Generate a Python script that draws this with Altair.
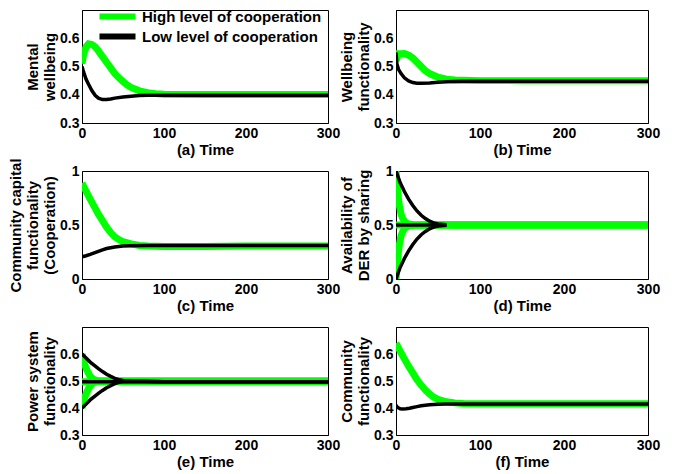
import altair as alt
import pandas as pd

HIGH = "High level of cooperation"
LOW = "Low level of cooperation"
GREEN = "#00ff00"

# ---------------- data ----------------
# (a) Mental wellbeing
a_high_t = [0, 2, 5, 8, 12, 16, 20, 25, 30, 35, 40, 45, 50, 55, 60, 70, 80, 90, 100, 150, 200, 250, 300]
a_high_y = [0.51, 0.545, 0.57, 0.58, 0.578, 0.57, 0.555, 0.535, 0.515, 0.495, 0.475, 0.46, 0.447, 0.435,
            0.426, 0.414, 0.407, 0.404, 0.402, 0.401, 0.401, 0.401, 0.401]
a_low_t = [0, 2, 5, 8, 12, 16, 20, 25, 30, 35, 40, 50, 60, 70, 80, 100, 150, 200, 250, 300]
a_low_y = [0.50, 0.48, 0.455, 0.437, 0.415, 0.398, 0.388, 0.383, 0.383, 0.385, 0.388, 0.392, 0.395,
           0.397, 0.398, 0.398, 0.398, 0.398, 0.398, 0.398]

# (b) Wellbeing functionality
b_high_t = [0, 3, 6, 10, 15, 20, 25, 30, 35, 40, 50, 60, 70, 80, 100, 150, 200, 250, 300]
b_high_y = [0.52, 0.545, 0.545, 0.546, 0.54, 0.53, 0.515, 0.5, 0.485, 0.475, 0.462, 0.455, 0.452,
            0.451, 0.45, 0.45, 0.45, 0.45, 0.45]
b_low_t = [0, 1, 3, 6, 10, 15, 20, 25, 30, 40, 50, 60, 70, 80, 100, 150, 200, 250, 300]
b_low_y = [0.55, 0.51, 0.49, 0.475, 0.46, 0.449, 0.443, 0.441, 0.441, 0.442, 0.444, 0.446, 0.447,
           0.448, 0.448, 0.448, 0.448, 0.448, 0.448]

# (c) Community capital functionality (Cooperation)
c_high_t = [0, 5, 10, 15, 20, 25, 30, 35, 40, 45, 50, 60, 70, 80, 100, 150, 200, 250, 300]
c_high_y = [0.89, 0.81, 0.74, 0.67, 0.6, 0.54, 0.48, 0.43, 0.39, 0.365, 0.345, 0.325, 0.31, 0.305,
            0.3, 0.3, 0.305, 0.305, 0.305]
c_low_t = [0, 5, 10, 15, 20, 25, 30, 40, 50, 60, 80, 100, 150, 200, 250, 300]
c_low_y = [0.205, 0.215, 0.228, 0.242, 0.256, 0.27, 0.282, 0.297, 0.305, 0.308, 0.31, 0.31, 0.31,
           0.31, 0.31, 0.31]

# (d) Availability of DER by sharing (three starting points)
d_high_t = [0, 1, 2, 3, 4, 6, 8, 10, 12, 15, 20, 30, 100, 200, 300]
d_high_up = [1.0, 0.9, 0.81, 0.74, 0.68, 0.6, 0.56, 0.535, 0.52, 0.51, 0.502, 0.5, 0.5, 0.5, 0.5]
d_high_mid = [0.5, 0.5, 0.5, 0.5, 0.5, 0.5, 0.5, 0.5, 0.5, 0.5, 0.5, 0.5, 0.5, 0.5, 0.5]
d_high_dn = [0.0, 0.1, 0.19, 0.26, 0.32, 0.4, 0.44, 0.465, 0.48, 0.49, 0.498, 0.5, 0.5, 0.5, 0.5]
d_low_t = [0, 5, 10, 15, 20, 25, 30, 35, 40, 45, 50, 60]
d_low_up = [1.0, 0.89, 0.81, 0.74, 0.68, 0.63, 0.59, 0.56, 0.535, 0.52, 0.51, 0.502]
d_low_mid = [0.5, 0.5, 0.5, 0.5, 0.5, 0.5, 0.5, 0.5, 0.5, 0.5, 0.5, 0.5]
d_low_dn = [0.0, 0.11, 0.19, 0.26, 0.32, 0.37, 0.41, 0.44, 0.465, 0.48, 0.49, 0.498]

# (e) Power system functionality (three starting points)
e_high_t = [0, 2, 4, 6, 8, 10, 12, 15, 20, 100, 200, 300]
e_high_up = [0.6, 0.575, 0.555, 0.54, 0.528, 0.518, 0.511, 0.505, 0.5, 0.5, 0.5, 0.5]
e_high_mid = [0.497, 0.497, 0.497, 0.497, 0.497, 0.497, 0.497, 0.497, 0.497, 0.497, 0.497, 0.497]
e_high_dn = [0.4, 0.425, 0.445, 0.46, 0.472, 0.482, 0.489, 0.495, 0.5, 0.5, 0.5, 0.5]
e_low_t = [0, 5, 10, 15, 20, 25, 30, 35, 40, 45, 50, 60, 100, 200, 300]
e_low_up = [0.6, 0.585, 0.57, 0.558, 0.546, 0.535, 0.525, 0.517, 0.51, 0.505, 0.502, 0.5, 0.497,
            0.497, 0.497]
e_low_mid = [0.497, 0.497, 0.497, 0.497, 0.497, 0.497, 0.497, 0.497, 0.497, 0.497, 0.497, 0.497,
             0.497, 0.497, 0.497]
e_low_dn = [0.4, 0.415, 0.43, 0.442, 0.454, 0.465, 0.475, 0.483, 0.49, 0.495, 0.498, 0.499, 0.497,
            0.497, 0.497]

# (f) Community functionality
f_high_t = [0, 5, 10, 15, 20, 25, 30, 35, 40, 45, 50, 60, 70, 80, 100, 150, 200, 250, 300]
f_high_y = [0.64, 0.61, 0.582, 0.555, 0.53, 0.505, 0.485, 0.466, 0.452, 0.44, 0.432, 0.423, 0.419,
            0.417, 0.416, 0.416, 0.416, 0.416, 0.416]
f_low_t = [0, 2, 5, 8, 12, 16, 20, 25, 30, 40, 50, 60, 80, 100, 150, 200, 250, 300]
f_low_y = [0.41, 0.402, 0.397, 0.396, 0.397, 0.399, 0.402, 0.405, 0.408, 0.412, 0.414, 0.415, 0.415,
           0.415, 0.415, 0.415, 0.415, 0.415]

rows = []


def add(panel, series, traj, ts, ys):
    for t, y in zip(ts, ys):
        rows.append({"panel": panel, "series": series, "traj": traj, "t": t, "y": y})


add("a", HIGH, "1", a_high_t, a_high_y)
add("a", LOW, "1", a_low_t, a_low_y)
add("b", HIGH, "1", b_high_t, b_high_y)
add("b", LOW, "1", b_low_t, b_low_y)
add("c", HIGH, "1", c_high_t, c_high_y)
add("c", LOW, "1", c_low_t, c_low_y)
add("d", HIGH, "1", d_high_t, d_high_up)
add("d", HIGH, "2", d_high_t, d_high_mid)
add("d", HIGH, "3", d_high_t, d_high_dn)
add("d", LOW, "1", d_low_t, d_low_up)
add("d", LOW, "2", d_low_t, d_low_mid)
add("d", LOW, "3", d_low_t, d_low_dn)
add("e", HIGH, "1", e_high_t, e_high_up)
add("e", HIGH, "2", e_high_t, e_high_mid)
add("e", HIGH, "3", e_high_t, e_high_dn)
add("e", LOW, "1", e_low_t, e_low_up)
add("e", LOW, "2", e_low_t, e_low_mid)
add("e", LOW, "3", e_low_t, e_low_dn)
add("f", HIGH, "1", f_high_t, f_high_y)
add("f", LOW, "1", f_low_t, f_low_y)

df = pd.DataFrame(rows)

x_ticks = [0, 100, 200, 300]
y_ticks_small = [0.3, 0.4, 0.5, 0.6]
y_ticks_unit = [0, 0.5, 1]

LEFT_W, RIGHT_W = 246, 252


def panel(key, ytitle, ydomain, yvalues, xtitle, w, h, legend=False):
    base = alt.Chart(df[df.panel == key])
    if legend:
        leg = alt.Legend(title=None, orient="none", legendX=28, legendY=-1,
                         symbolType="M-6,0L6,0", symbolSize=36, symbolStrokeWidth=6,
                         labelFontSize=15, labelFontWeight="bold", labelColor="black",
                         labelLimit=0, labelOffset=17, rowPadding=-11, padding=0)
    else:
        leg = None
    color = alt.Color("series:N",
                      scale=alt.Scale(domain=[HIGH, LOW], range=[GREEN, "#000000"]),
                      legend=leg)
    x = alt.X("t:Q", scale=alt.Scale(domain=[0, 300], nice=False),
              axis=alt.Axis(values=x_ticks, title=xtitle, labelFlush=False))
    y = alt.Y("y:Q", scale=alt.Scale(domain=ydomain, nice=False, zero=False),
              axis=alt.Axis(values=yvalues, format="~g", title=ytitle))
    green = base.transform_filter(alt.datum.series == HIGH).mark_line(
        strokeWidth=7, clip=True).encode(x=x, y=y, color=color, detail="traj:N")
    black = base.transform_filter(alt.datum.series == LOW).mark_line(
        strokeWidth=3.5, clip=True).encode(x=x, y=y, color=color, detail="traj:N")
    return alt.layer(green, black).properties(width=w, height=h)


pa = panel("a", ["Mental", "wellbeing"], [0.3, 0.7], y_ticks_small, "(a) Time", LEFT_W, 113, legend=True)
pb = panel("b", ["Wellbeing", "functionality"], [0.3, 0.7], y_ticks_small, "(b) Time", RIGHT_W, 113)
pc = panel("c", ["Community capital", "functionality", "(Cooperation)"], [0, 1], y_ticks_unit,
           "(c) Time", LEFT_W, 108)
pd_ = panel("d", ["Availability of", "DER by sharing"], [0, 1], y_ticks_unit, "(d) Time", RIGHT_W, 108)
pe = panel("e", ["Power system", "functionality"], [0.3, 0.7], y_ticks_small, "(e) Time", LEFT_W, 108)
pf = panel("f", ["Community", "functionality"], [0.3, 0.7], y_ticks_small, "(f) Time", RIGHT_W, 108)

chart = alt.concat(pa, pb, pc, pd_, pe, pf, columns=2, spacing={"row": 48, "column": 68},
                   bounds="flush", align="each").resolve_scale(
    color="independent").resolve_legend(color="independent")

chart = chart.properties(padding=0).configure(
    font="Liberation Sans"
).configure_view(
    stroke="black", strokeWidth=1
).configure_axis(
    grid=False, ticks=False, domainColor="black", domainWidth=1,
    labelFont="Liberation Sans", labelFontSize=14, labelFontWeight="bold", labelColor="black",
    labelPadding=3,
    titleFont="Liberation Sans", titleFontSize=15, titleFontWeight="bold", titleColor="black",
    titlePadding=2
)

chart.save("out.html", embed_options={"renderer": "svg", "actions": False})
